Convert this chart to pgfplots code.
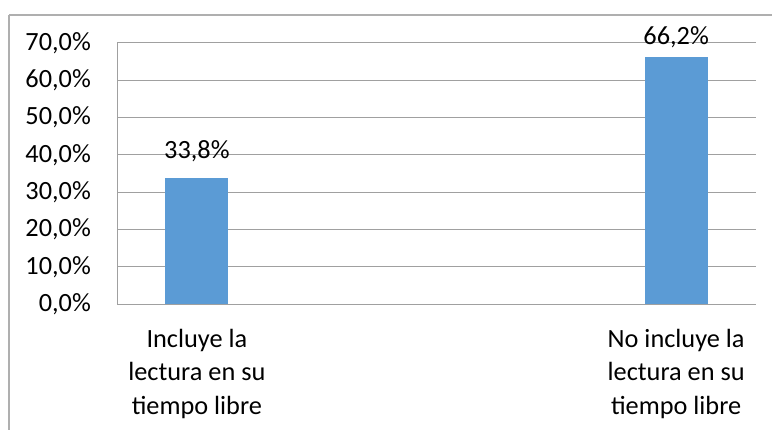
\documentclass[border=0pt]{standalone}
\usepackage{pgfplots}
\pgfplotsset{compat=1.18}
\usepackage{fontspec}
\setmainfont{Carlito}
\definecolor{barblue}{HTML}{5B9BD5}
\definecolor{gridgray}{HTML}{A0A0A0}
\definecolor{framegray}{HTML}{AFAFAF}
\newcommand{\bigfont}{\fontsize{26.4}{33.5}\selectfont}
\begin{document}
\begin{tikzpicture}[x=1bp,y=1bp]
\useasboundingbox (0,0) rectangle (772,429);
\draw[framegray, line width=1.2bp] (9,414) -- (790,414);
\draw[framegray, line width=1.2bp] (9,414) -- (9,-20);
\begin{axis}[
  at={(117bp,125bp)}, anchor=south west,
  scale only axis, width=639bp, height=261bp,
  xmin=0, xmax=8, ymin=0, ymax=70,
  axis lines*=left,
  axis line style={gridgray, line width=1bp},
  ymajorgrids, grid style={gridgray, line width=1bp},
  major tick length=0pt,
  ytick={0,10,20,30,40,50,60,70},
  yticklabels={{0,0\%},{10,0\%},{20,0\%},{30,0\%},{40,0\%},{50,0\%},{60,0\%},{70,0\%}},
  yticklabel style={font=\bigfont, inner sep=0pt, anchor=east, xshift=-26bp},
  xtick={1,7},
  xticklabels={{Incluye la\\lectura en su\\tiempo libre},{No incluye la\\lectura en su\\tiempo libre}},
  xticklabel style={align=center, font=\bigfont, inner sep=0pt, anchor=north, yshift=-25bp},
]
\addplot[ybar, bar width=63bp, bar shift=0pt, fill=barblue, draw=none,
  nodes near coords={33,8\%},
  every node near coord/.append style={font=\bigfont, text=black, anchor=base, inner sep=0pt, yshift=19.6bp}]
  coordinates {(1,33.8)};
\addplot[ybar, bar width=63bp, bar shift=0pt, fill=barblue, draw=none,
  nodes near coords={66,2\%},
  every node near coord/.append style={font=\bigfont, text=black, anchor=base, inner sep=0pt, yshift=12.2bp}]
  coordinates {(7,66.2)};
\end{axis}
\end{tikzpicture}
\end{document}
